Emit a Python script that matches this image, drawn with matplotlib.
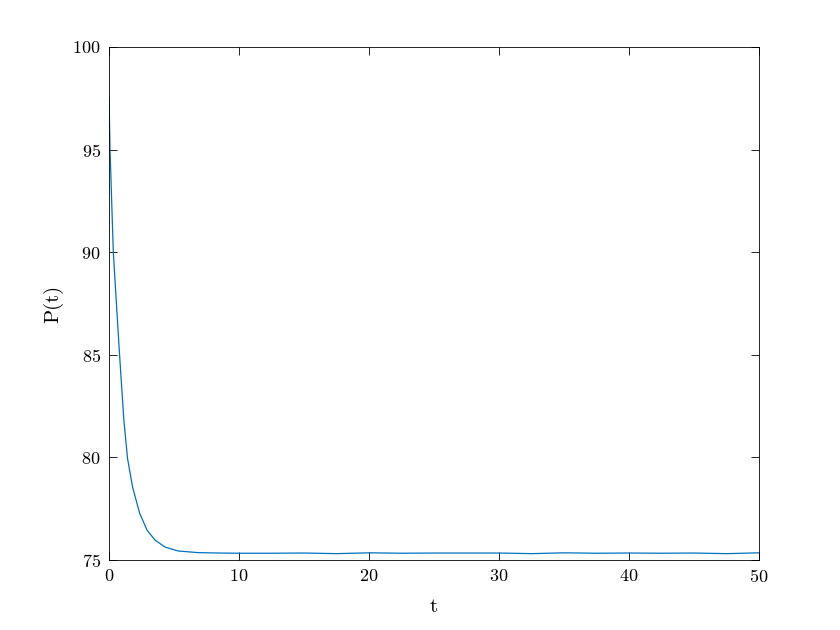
from matplotlib import pyplot as plt

plt.rcParams['font.family'] = 'serif'
plt.rcParams['font.serif'] = ['cmr10']
plt.rcParams['mathtext.fontset'] = 'cm'
plt.rcParams['axes.formatter.use_mathtext'] = True

# values
t = [0, 0.077, 0.2, 0.33, 0.565, 0.81, 1.14, 1.42, 1.81, 2.35, 2.92, 3.54,
     4.31, 5.31, 6.85, 8.5, 10, 12.5, 15, 17.5, 20, 22.5, 25, 27.5,
     30, 32.5, 35, 37.5, 40, 42.5, 45, 47.5, 50]
P = [97.5, 95.0, 92.54, 90.0, 87.52, 85.0, 81.82, 79.96, 78.56, 77.29, 76.46,
     75.97, 75.63, 75.44, 75.36, 75.34, 75.33, 75.33, 75.34,
     75.31, 75.35, 75.33, 75.34, 75.34, 75.34, 75.31, 75.35, 75.33, 75.34,
     75.33, 75.34, 75.31, 75.35]

xticks = [0, 10, 20, 30, 40, 50]
yticks = [75, 80, 85, 90, 95, 100]

fig = plt.figure(figsize=(8.4, 6.3), dpi=100)
ax = fig.add_axes([0.1298, 0.1111, 0.7738, 0.8143])
ax.plot(t, P, color='#0072BD', lw=0.9)

ax.set_xlim(0, 50)
ax.set_ylim(75, 100)
ax.set_xticks(xticks)
ax.set_yticks(yticks)
ax.tick_params(direction='in', length=6, width=0.6, top=True, right=True,
               labelsize=13, pad=6)
for s in ax.spines.values():
    s.set_linewidth(0.6)
ax.set_xlabel('t', fontsize=15, labelpad=9)
ax.set_ylabel('P(t)', fontsize=15)
ax.yaxis.set_label_coords(-0.071, 0.5)

fig.savefig('out.png', dpi=100)
